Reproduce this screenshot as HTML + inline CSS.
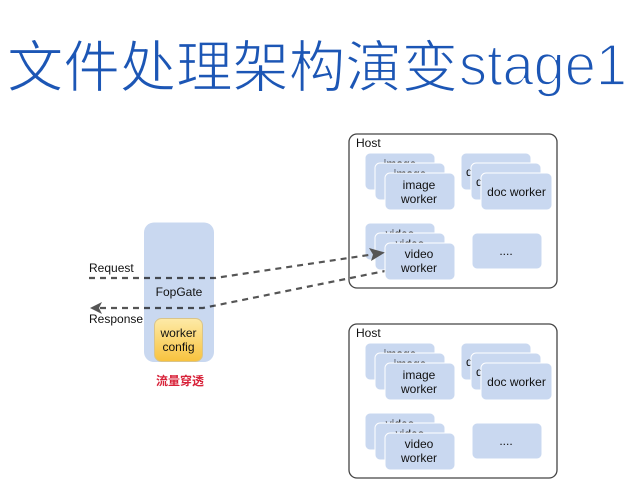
<!DOCTYPE html>
<html>
<head>
<meta charset="utf-8">
<style>
html,body{margin:0;padding:0;background:#fff;width:640px;height:480px;overflow:hidden}
svg{display:block;filter:blur(0.3px)}
text{font-family:"Liberation Sans","Noto Sans CJK SC",sans-serif}
.c{fill:#c9d8f0;stroke:#fff;stroke-width:1}
.t{font-size:12px;fill:#111;text-anchor:middle}
.h{fill:#fff;stroke:#444;stroke-width:1.3}
</style>
</head>
<body>
<svg width="640" height="480" viewBox="0 0 640 480" xmlns="http://www.w3.org/2000/svg">
<text x="7" y="87" font-size="56" fill="#1c56b5" stroke="#fff" stroke-width="1.2" textLength="451" lengthAdjust="spacingAndGlyphs">文件处理架构演变</text>
<text x="459" y="85" font-size="58" fill="#1c56b5" stroke="#fff" stroke-width="1.8" textLength="168" lengthAdjust="spacingAndGlyphs">stage1</text>

<!-- Host 1 -->
<rect class="h" x="349" y="134" width="208" height="154" rx="8"/>
<text x="356" y="147" font-size="12" fill="#111">Host</text>
<rect class="c" x="365" y="153" width="70" height="37" rx="5"/>
<text class="t" x="400" y="168">image</text>
<rect class="c" x="375" y="163" width="70" height="37" rx="5"/>
<text class="t" x="410" y="178">image</text>
<rect class="c" x="385" y="173" width="70" height="37" rx="5"/>
<text class="t" x="419" y="189">image</text>
<text class="t" x="419" y="203">worker</text>

<rect class="c" x="461" y="153" width="70" height="37" rx="5"/>
<text x="466" y="176" font-size="12" fill="#111">d</text>
<rect class="c" x="471" y="163" width="70" height="37" rx="5"/>
<text x="476" y="186" font-size="12" fill="#111">d</text>
<rect class="c" x="481" y="173" width="71" height="37" rx="5"/>
<text class="t" x="516.500" y="196">doc worker</text>

<rect class="c" x="365" y="223" width="70" height="37" rx="5"/>
<text class="t" x="400" y="238">video</text>
<rect class="c" x="375" y="233" width="70" height="37" rx="5"/>
<text class="t" x="410" y="248">video</text>

<!-- connectors to host 1 -->
<path d="M89 278 H215 L372 254.500" fill="none" stroke="#555" stroke-width="2.200" stroke-dasharray="6 5"/>
<path d="M385 252.500 L369 248 L373 254.500 L371 261 Z" fill="#555"/>
<path d="M100 308 H203 L385 271" fill="none" stroke="#555" stroke-width="2.200" stroke-dasharray="6 5"/>
<path d="M90 308 L102 302 L99 308 L102 314 Z" fill="#555"/>

<rect class="c" x="385" y="243" width="70" height="37" rx="5"/>
<text class="t" x="419" y="258">video</text>
<text class="t" x="419" y="272">worker</text>

<rect class="c" x="472" y="233" width="70" height="36" rx="5"/>
<text class="t" x="506" y="255">....</text>

<!-- Host 2 -->
<rect class="h" x="349" y="324" width="208" height="154" rx="8"/>
<text x="356" y="337" font-size="12" fill="#111">Host</text>
<rect class="c" x="365" y="343" width="70" height="37" rx="5"/>
<text class="t" x="400" y="358">image</text>
<rect class="c" x="375" y="353" width="70" height="37" rx="5"/>
<text class="t" x="410" y="368">image</text>
<rect class="c" x="385" y="363" width="70" height="37" rx="5"/>
<text class="t" x="419" y="379">image</text>
<text class="t" x="419" y="393">worker</text>

<rect class="c" x="461" y="343" width="70" height="37" rx="5"/>
<text x="466" y="366" font-size="12" fill="#111">d</text>
<rect class="c" x="471" y="353" width="70" height="37" rx="5"/>
<text x="476" y="376" font-size="12" fill="#111">d</text>
<rect class="c" x="481" y="363" width="71" height="37" rx="5"/>
<text class="t" x="516.500" y="386">doc worker</text>

<rect class="c" x="365" y="413" width="70" height="37" rx="5"/>
<text class="t" x="400" y="428">video</text>
<rect class="c" x="375" y="423" width="70" height="37" rx="5"/>
<text class="t" x="410" y="438">video</text>
<rect class="c" x="385" y="433" width="70" height="37" rx="5"/>
<text class="t" x="419" y="448">video</text>
<text class="t" x="419" y="462">worker</text>

<rect class="c" x="472" y="423" width="70" height="36" rx="5"/>
<text class="t" x="506" y="445">....</text>

<!-- FopGate -->
<rect x="144" y="222.500" width="70" height="139.500" rx="10" fill="#c9d8f0" style="mix-blend-mode:multiply"/>
<text class="t" x="179" y="296">FopGate</text>
<defs>
<linearGradient id="g" x1="0" y1="0" x2="0" y2="1">
<stop offset="0" stop-color="#fdeaa8"/>
<stop offset="1" stop-color="#f8c23e"/>
</linearGradient>
</defs>
<rect x="154.500" y="318.500" width="48" height="43" rx="7" fill="url(#g)" stroke="#d9c48a"/>
<text class="t" x="178.500" y="337">worker</text>
<text class="t" x="178.500" y="351">config</text>

<text x="89" y="272" font-size="12" fill="#111">Request</text>
<text x="89" y="323" font-size="12" fill="#111">Response</text>
<text x="156" y="385" font-size="12" font-weight="700" fill="#d8233a" textLength="48" lengthAdjust="spacingAndGlyphs">流量穿透</text>
</svg>
</body>
</html>
